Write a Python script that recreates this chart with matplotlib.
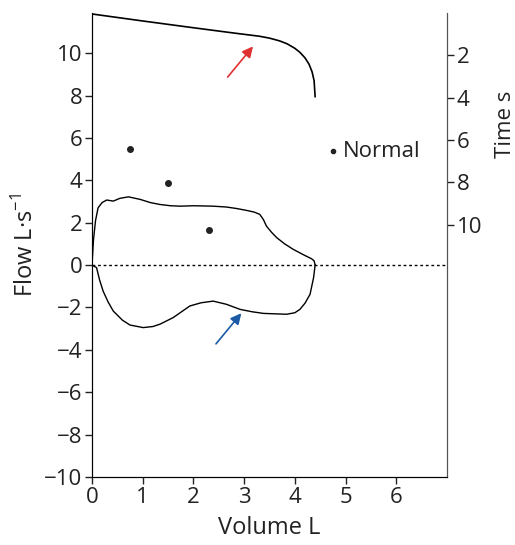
import numpy as np
import matplotlib.pyplot as plt

plt.rcParams['font.family'] = ['Open Sans', 'DejaVu Sans']
plt.rcParams['axes.unicode_minus'] = True

# expiratory limb of the flow-volume loop (volume L, flow L/s)
exp_vol = [0.0, 0.03, 0.07, 0.12, 0.2, 0.29, 0.42, 0.55, 0.72, 0.95, 1.15, 1.34, 1.55,
           1.74, 2.0, 2.39, 2.65, 2.85, 3.05, 3.2, 3.31, 3.38, 3.44, 3.54, 3.64, 3.8,
           3.97, 4.2, 4.33, 4.38, 4.4]
exp_flow = [0.0, 1.2, 2.1, 2.7, 2.95, 3.07, 3.02, 3.15, 3.22, 3.1, 2.95, 2.86, 2.8,
            2.78, 2.8, 2.78, 2.74, 2.67, 2.58, 2.5, 2.39, 2.15, 1.84, 1.55, 1.3, 1.0,
            0.74, 0.45, 0.3, 0.2, 0.0]

# inspiratory limb
insp_vol = [0.0, 0.09, 0.15, 0.22, 0.32, 0.42, 0.6, 0.75, 1.01, 1.2, 1.34, 1.6, 1.93,
            2.15, 2.39, 2.65, 2.92, 3.15, 3.38, 3.6, 3.84, 4.0, 4.1, 4.2, 4.3, 4.37, 4.4]
insp_flow = [0.0, -0.12, -0.7, -1.23, -1.75, -2.17, -2.6, -2.83, -2.95, -2.9, -2.79,
             -2.48, -1.93, -1.78, -1.7, -1.85, -2.09, -2.2, -2.28, -2.3, -2.32, -2.25,
             -2.09, -1.8, -1.38, -0.59, 0.0]

# volume-time trace (plotted against the inverted time axis)
vt_vol = [0.0, 1.0, 2.0, 2.8, 3.1, 3.3, 3.5, 3.7, 3.85, 4.0, 4.1, 4.2, 4.28, 4.34,
          4.38, 4.4]
vt_time = [0.05, 0.38, 0.7, 0.95, 1.04, 1.1, 1.19, 1.32, 1.46, 1.67, 1.86, 2.12,
           2.42, 2.78, 3.2, 3.95]

# timing dots (volume, flow)
dot_vol = [0.75, 1.5, 2.3]
dot_flow = [5.5, 3.85, 1.65]
normal_dot = (4.75, 5.38)

flow_ticks = list(range(-10, 11, 2))
time_ticks = [2, 4, 6, 8, 10]
vol_ticks = list(range(0, 7))

ytop = 11.9

fig = plt.figure(figsize=(5.15, 5.45), dpi=100)
ax = fig.add_axes([0.1786, 0.1248, 0.6893, 0.8515])

ax.plot(exp_vol, exp_flow, color='black', lw=1.0)
ax.plot(insp_vol, insp_flow, color='black', lw=1.0)
ax.axhline(0, color='black', lw=1.0, ls=(0, (2, 2)))
ax.plot(dot_vol, dot_flow, 'o', color='#222222', ms=4)
ax.plot([normal_dot[0]], [normal_dot[1]], 'o', color='#222222', ms=3)
ax.text(normal_dot[0] + 0.2, normal_dot[1], 'Normal', fontsize=16, va='center',
        color='#222222')

ax.annotate('', xy=(3.21, 10.42), xytext=(2.64, 8.77),
            arrowprops=dict(arrowstyle='-|>', color='#e03030', lw=1.2,
                            mutation_scale=16))
ax.annotate('', xy=(2.98, -2.17), xytext=(2.41, -3.82),
            arrowprops=dict(arrowstyle='-|>', color='#1c5aa6', lw=1.2,
                            mutation_scale=16))

ax.set_xlim(0, 7)
ax.set_ylim(-10, ytop)
ax.set_xticks(vol_ticks)
ax.set_yticks(flow_ticks)
ax.tick_params(labelsize=16, length=5, width=1, colors='#222222', pad=2)
ax.set_xlabel('Volume L', fontsize=17, color='#222222', labelpad=6)
ax.set_ylabel('Flow L·s$^{\\mathregular{-1}}$', fontsize=17, color='#222222', labelpad=4)
ax.spines['top'].set_visible(False)
for s in ['left', 'bottom', 'right']:
    ax.spines[s].set_color('#333333')

tx = ax.twinx()
tx.plot(vt_vol, vt_time, color='black', lw=1.2)
tx.set_ylim(ytop + 10, 0)
tx.set_yticks(time_ticks)
tx.tick_params(labelsize=16, length=5, width=1, colors='#222222', pad=2)
tx.set_ylabel('Time s', fontsize=16, color='#222222', rotation=90, va='center')
tx.yaxis.set_label_coords(1.165, 0.76)
tx.spines['top'].set_visible(False)
tx.spines['right'].set_color('#555555')

fig.savefig('out.png', dpi=100)
